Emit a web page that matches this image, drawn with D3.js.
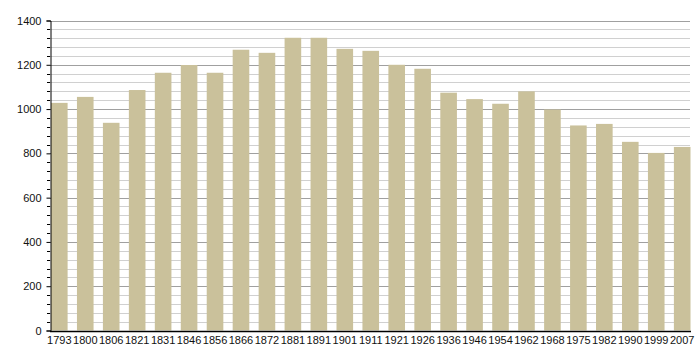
<!DOCTYPE html>
<html><head><meta charset="utf-8">
<script src="https://cdnjs.cloudflare.com/ajax/libs/d3/7.8.5/d3.min.js"></script>
<style>html,body{margin:0;padding:0;background:#fff;}svg{display:block;font-family:"Liberation Sans",Arial,sans-serif;}</style>
</head><body>
<svg id="chart" width="700" height="360"></svg>
<script>
const years = ["1793","1800","1806","1821","1831","1846","1856","1866","1872","1881","1891","1901","1911","1921","1926","1936","1946","1954","1962","1968","1975","1982","1990","1999","2007"];
const population = [1028,1055,938,1086,1164,1199,1164,1268,1254,1322,1322,1272,1263,1200,1182,1074,1045,1024,1080,998,926,933,852,802,829];
const yTicks = [0,200,400,600,800,1000,1200,1400];

(function(){
const svg = d3.select("#chart");
const mLeft = 50, mRight = 690, mTop = 20.5, mBottom = 330.5;

const x = d3.scaleBand().domain(years).range([mLeft+1, mRight+0.5]).paddingInner(0.36).paddingOuter(0);
const y = d3.scaleLinear().domain([0,1400]).range([mBottom, mTop]);

const minor = d3.range(0, 1401, 40);
// grid
svg.append("g").selectAll("line").data(minor).join("line")
  .attr("x1", mLeft).attr("x2", mRight)
  .attr("y1", d => Math.round(y(d)) + 0.5).attr("y2", d => Math.round(y(d)) + 0.5)
  .attr("stroke", d => d % 200 === 0 ? "#a0a0a0" : "#d0d0d0")
  .attr("stroke-width", 1);

// bars
svg.append("g").selectAll("rect").data(population).join("rect")
  .attr("x", (d,i) => x(years[i]))
  .attr("width", x.bandwidth())
  .attr("y", d => y(d))
  .attr("height", d => y(0) - y(d))
  .attr("fill", "#cac19b");

// y axis
const yAxis = d3.axisLeft(y).tickValues(yTicks).tickSize(4).tickPadding(5).tickFormat(d3.format("d"));
const gy = svg.append("g").attr("transform", `translate(${mLeft+0.5},0)`).call(yAxis);
gy.select(".domain").attr("stroke", "#000");
gy.selectAll("text").attr("font-size", 11).attr("fill", "#111").attr("font-family", "Liberation Sans, Arial, sans-serif");
gy.selectAll(".tick line").attr("stroke", "#000");
// minor ticks
svg.append("g").selectAll("line").data(minor.filter(d => d % 200 !== 0)).join("line")
  .attr("x1", mLeft - 3).attr("x2", mLeft)
  .attr("y1", d => Math.round(y(d)) + 0.5).attr("y2", d => Math.round(y(d)) + 0.5)
  .attr("stroke", "#000");

// x axis
const xAxis = d3.axisBottom(x).tickSize(0).tickPadding(5);
const gx = svg.append("g").attr("transform", `translate(0,${Math.round(y(0))+0.5})`).call(xAxis);
gx.select(".domain").attr("stroke", "#000").attr("d", `M${mLeft},0H${mRight+1}`).attr("stroke-width", 1.5);
gx.selectAll("text").attr("font-size", 11).attr("fill", "#111").attr("font-family", "Liberation Sans, Arial, sans-serif");
})();
</script>
</body></html>
